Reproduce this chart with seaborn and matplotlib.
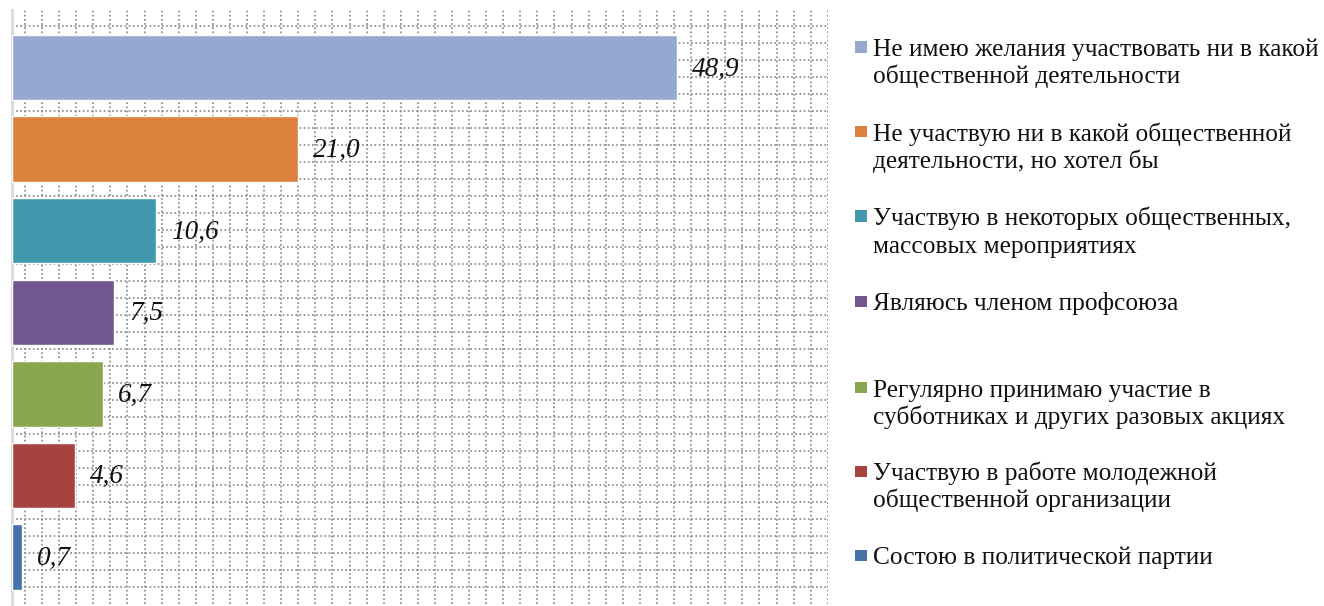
import numpy as np
import pandas as pd
import matplotlib
matplotlib.use("Agg")
import matplotlib.pyplot as plt
import seaborn as sns
from matplotlib.patches import Rectangle

categories = [
    "Не имею желания участвовать ни в какой\nобщественной деятельности",
    "Не участвую ни в какой общественной\nдеятельности, но хотел бы",
    "Участвую в некоторых общественных,\nмассовых мероприятиях",
    "Являюсь членом профсоюза",
    "Регулярно принимаю участие в\nсубботниках и других разовых акциях",
    "Участвую в работе молодежной\nобщественной организации",
    "Состою в политической партии",
]
values = [48.9, 21.0, 10.6, 7.5, 6.7, 4.6, 0.7]
value_labels = ["48,9", "21,0", "10,6", "7,5", "6,7", "4,6", "0,7"]
colors = ["#95A9D0", "#DC823E", "#4299AF", "#725690", "#89A74E", "#A8423F", "#4572A7"]

sns.set_theme(style="white")
plt.rcParams["font.family"] = ["Liberation Serif", "DejaVu Serif"]

W, H = 1324, 606
fig = plt.figure(figsize=(W / 100, H / 100), dpi=100)
ax = fig.add_axes([12 / W, 2 / H, 816 / W, 594 / H])

df = pd.DataFrame({"cat": categories, "val": values})
sns.barplot(data=df, y="cat", x="val", hue="cat", palette=colors, orient="h",
            width=0.8, legend=False, ax=ax, saturation=1, zorder=3)

ax.set_xlim(0, 60)
ax.set_ylim(6.575, -0.705)

# dotted background grid (17 px squares)
pxx = 816 / 60
pxy = 594 / 7.28
for xv in np.arange(13 / pxx, 60, 17.08 / pxx):
    ax.axvline(xv, color="#858585", lw=1.2, ls=(0, (1, 1.5)), zorder=0)
for yv in np.arange(-0.705 + 16 / pxy, 6.575, 17.0 / pxy):
    ax.axhline(yv, color="#858585", lw=1.2, ls=(0, (1, 1.5)), zorder=0)

for s in ["top", "right", "bottom"]:
    ax.spines[s].set_visible(False)
ax.spines["left"].set_color("#d9d9d9")
ax.spines["left"].set_linewidth(2)
ax.set_xticks([])
ax.set_yticks([])
ax.set_xlabel("")
ax.set_ylabel("")

for i, (v, lab) in enumerate(zip(values, value_labels)):
    ax.annotate(lab, xy=(v, i), xytext=(10.8, -1), textcoords="offset points",
                va="center", ha="left", fontstyle="italic", fontsize=19.5, color="#111111")

# legend (manual, right side)
baselines = [56, 140.7, 225, 310, 396.7, 480, 564]
for cat, col, b in zip(categories, colors, baselines):
    fig.add_artist(Rectangle((855 / W, (H - (b - 3.5)) / H), 12 / W, 11 / H,
                             transform=fig.transFigure, color=col, lw=0))
    for j, line in enumerate(cat.split("\n")):
        fig.text(873 / W, (H - (b + 27.5 * j)) / H, line, fontsize=18.3,
                 va="baseline", ha="left", color="#111111")

fig.savefig("out.png", dpi=100)
